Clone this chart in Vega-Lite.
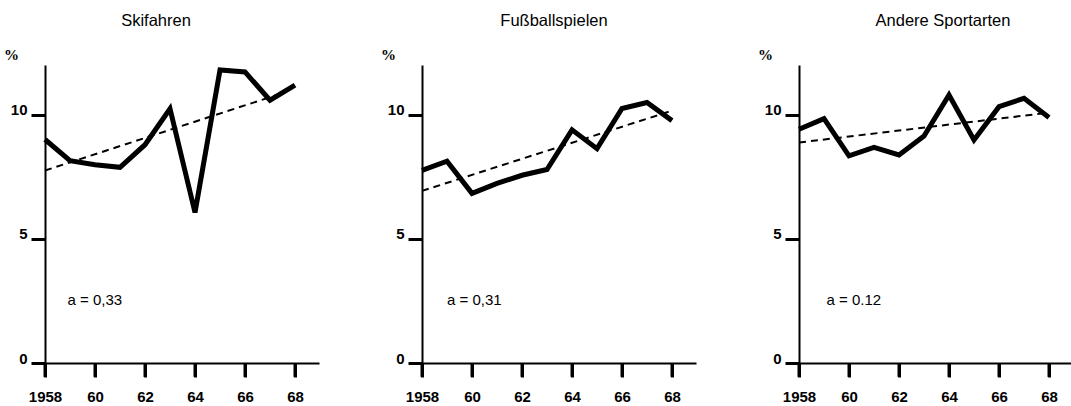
{
  "$schema": "https://vega.github.io/schema/vega-lite/v6.json",
  "background": "white",
  "padding": {"left": 3, "top": 12, "right": 0, "bottom": 0},
  "spacing": 61,
  "config": {
    "view": {"stroke": null},
    "title": {"font": "Liberation Sans", "fontSize": 16.5, "fontWeight": "normal", "color": "black", "anchor": "middle", "frame": "group", "offset": 18}
  },
  "datasets": {
    "lines": [
      {"sport": "Skifahren", "year": 1958, "value": 9.0},
      {"sport": "Skifahren", "year": 1959, "value": 8.15},
      {"sport": "Skifahren", "year": 1960, "value": 7.98},
      {"sport": "Skifahren", "year": 1961, "value": 7.88},
      {"sport": "Skifahren", "year": 1962, "value": 8.79},
      {"sport": "Skifahren", "year": 1963, "value": 10.24},
      {"sport": "Skifahren", "year": 1964, "value": 6.06},
      {"sport": "Skifahren", "year": 1965, "value": 11.8},
      {"sport": "Skifahren", "year": 1966, "value": 11.72},
      {"sport": "Skifahren", "year": 1967, "value": 10.58},
      {"sport": "Skifahren", "year": 1968, "value": 11.19},
      {"sport": "Fußballspielen", "year": 1958, "value": 7.76},
      {"sport": "Fußballspielen", "year": 1959, "value": 8.13},
      {"sport": "Fußballspielen", "year": 1960, "value": 6.83},
      {"sport": "Fußballspielen", "year": 1961, "value": 7.23},
      {"sport": "Fußballspielen", "year": 1962, "value": 7.56},
      {"sport": "Fußballspielen", "year": 1963, "value": 7.79},
      {"sport": "Fußballspielen", "year": 1964, "value": 9.39},
      {"sport": "Fußballspielen", "year": 1965, "value": 8.63},
      {"sport": "Fußballspielen", "year": 1966, "value": 10.25},
      {"sport": "Fußballspielen", "year": 1967, "value": 10.49},
      {"sport": "Fußballspielen", "year": 1968, "value": 9.76},
      {"sport": "Andere Sportarten", "year": 1958, "value": 9.41},
      {"sport": "Andere Sportarten", "year": 1959, "value": 9.84},
      {"sport": "Andere Sportarten", "year": 1960, "value": 8.34},
      {"sport": "Andere Sportarten", "year": 1961, "value": 8.68},
      {"sport": "Andere Sportarten", "year": 1962, "value": 8.38},
      {"sport": "Andere Sportarten", "year": 1963, "value": 9.14},
      {"sport": "Andere Sportarten", "year": 1964, "value": 10.79},
      {"sport": "Andere Sportarten", "year": 1965, "value": 8.98},
      {"sport": "Andere Sportarten", "year": 1966, "value": 10.32},
      {"sport": "Andere Sportarten", "year": 1967, "value": 10.66},
      {"sport": "Andere Sportarten", "year": 1968, "value": 9.89}
    ],
    "trends": [
      {"sport": "Skifahren", "year": 1958, "value": 7.75},
      {"sport": "Skifahren", "year": 1967.6, "value": 10.9},
      {"sport": "Fußballspielen", "year": 1958, "value": 6.93},
      {"sport": "Fußballspielen", "year": 1968, "value": 10.16},
      {"sport": "Andere Sportarten", "year": 1958, "value": 8.88},
      {"sport": "Andere Sportarten", "year": 1968, "value": 10.08}
    ],
    "notes": [
      {"sport": "Skifahren", "year": 1958.9, "value": 2.54, "label": "a = 0,33"},
      {"sport": "Fußballspielen", "year": 1959.0, "value": 2.52, "label": "a = 0,31"},
      {"sport": "Andere Sportarten", "year": 1959.1, "value": 2.53, "label": "a = 0.12"}
    ]
  },
  "hconcat": [
    {
      "title": {"text": "Skifahren", "dx": -21},
      "width": 284, "height": 298,
      "encoding": {
        "x": {"field": "year", "type": "quantitative", "scale": {"domain": [1957.6, 1968.96], "nice": false, "zero": false},
          "axis": {"grid": false, "domainColor": "black", "domainWidth": 2, "tickColor": "black", "tickWidth": 3, "tickSize": 14, "labelColor": "black", "labelFont": "Liberation Sans", "labelFontSize": 15, "labelFontWeight": "bold", "labelPadding": 12, "values": [1958, 1960, 1962, 1964, 1966, 1968], "labelExpr": "datum.value == 1958 ? '1958' : slice(toString(datum.value), 2)", "title": null}},
        "y": {"field": "value", "type": "quantitative", "scale": {"domain": [0, 12], "nice": false},
          "axis": {"grid": false, "domainColor": "black", "domainWidth": 2, "tickColor": "black", "tickWidth": 3, "tickSize": 14, "labelColor": "black", "labelFont": "Liberation Sans", "labelFontSize": 15, "labelFontWeight": "bold", "values": [0, 5, 10], "offset": -10, "labelPadding": 4, "labelOffset": -5, "title": "%", "titleAngle": 0, "titleX": -34, "titleY": -11, "titleAlign": "center", "titleBaseline": "middle", "titleFontSize": 15, "titleFontWeight": "bold", "titleColor": "black", "titleFont": "Liberation Serif"}}
      },
      "layer": [
        {"data": {"name": "lines"}, "transform": [{"filter": "datum.sport == 'Skifahren' && datum.year % 2 == 0"}], "mark": {"type": "rule", "color": "black", "strokeWidth": 3}, "encoding": {"y": {"datum": 0}, "y2": {"datum": -0.56}}},
        {"data": {"name": "trends"}, "transform": [{"filter": "datum.sport == 'Skifahren'"}], "mark": {"type": "line", "color": "black", "strokeWidth": 2, "strokeDash": [7, 5]}},
        {"data": {"name": "lines"}, "transform": [{"filter": "datum.sport == 'Skifahren'"}], "mark": {"type": "line", "color": "black", "strokeWidth": 5}},
        {"data": {"name": "notes"}, "transform": [{"filter": "datum.sport == 'Skifahren'"}], "mark": {"type": "text", "align": "left", "baseline": "middle", "font": "Liberation Sans", "fontSize": 15, "color": "black"}, "encoding": {"text": {"field": "label"}}}
      ]
    },
    {
      "title": {"text": "Fußballspielen", "dx": 0},
      "width": 284, "height": 298,
      "encoding": {
        "x": {"field": "year", "type": "quantitative", "scale": {"domain": [1957.6, 1968.96], "nice": false, "zero": false},
          "axis": {"grid": false, "domainColor": "black", "domainWidth": 2, "tickColor": "black", "tickWidth": 3, "tickSize": 14, "labelColor": "black", "labelFont": "Liberation Sans", "labelFontSize": 15, "labelFontWeight": "bold", "labelPadding": 12, "values": [1958, 1960, 1962, 1964, 1966, 1968], "labelExpr": "datum.value == 1958 ? '1958' : slice(toString(datum.value), 2)", "title": null}},
        "y": {"field": "value", "type": "quantitative", "scale": {"domain": [0, 12], "nice": false},
          "axis": {"grid": false, "domainColor": "black", "domainWidth": 2, "tickColor": "black", "tickWidth": 3, "tickSize": 14, "labelColor": "black", "labelFont": "Liberation Sans", "labelFontSize": 15, "labelFontWeight": "bold", "values": [0, 5, 10], "offset": -10, "labelPadding": 4, "labelOffset": -5, "title": "%", "titleAngle": 0, "titleX": -34, "titleY": -11, "titleAlign": "center", "titleBaseline": "middle", "titleFontSize": 15, "titleFontWeight": "bold", "titleColor": "black", "titleFont": "Liberation Serif"}}
      },
      "layer": [
        {"data": {"name": "lines"}, "transform": [{"filter": "datum.sport == 'Fußballspielen' && datum.year % 2 == 0"}], "mark": {"type": "rule", "color": "black", "strokeWidth": 3}, "encoding": {"y": {"datum": 0}, "y2": {"datum": -0.56}}},
        {"data": {"name": "trends"}, "transform": [{"filter": "datum.sport == 'Fußballspielen'"}], "mark": {"type": "line", "color": "black", "strokeWidth": 2, "strokeDash": [7, 5]}},
        {"data": {"name": "lines"}, "transform": [{"filter": "datum.sport == 'Fußballspielen'"}], "mark": {"type": "line", "color": "black", "strokeWidth": 5}},
        {"data": {"name": "notes"}, "transform": [{"filter": "datum.sport == 'Fußballspielen'"}], "mark": {"type": "text", "align": "left", "baseline": "middle", "font": "Liberation Sans", "fontSize": 15, "color": "black"}, "encoding": {"text": {"field": "label"}}}
      ]
    },
    {
      "title": {"text": "Andere Sportarten", "dx": 12},
      "width": 284, "height": 298,
      "encoding": {
        "x": {"field": "year", "type": "quantitative", "scale": {"domain": [1957.6, 1968.96], "nice": false, "zero": false},
          "axis": {"grid": false, "domainColor": "black", "domainWidth": 2, "tickColor": "black", "tickWidth": 3, "tickSize": 14, "labelColor": "black", "labelFont": "Liberation Sans", "labelFontSize": 15, "labelFontWeight": "bold", "labelPadding": 12, "values": [1958, 1960, 1962, 1964, 1966, 1968], "labelExpr": "datum.value == 1958 ? '1958' : slice(toString(datum.value), 2)", "title": null}},
        "y": {"field": "value", "type": "quantitative", "scale": {"domain": [0, 12], "nice": false},
          "axis": {"grid": false, "domainColor": "black", "domainWidth": 2, "tickColor": "black", "tickWidth": 3, "tickSize": 14, "labelColor": "black", "labelFont": "Liberation Sans", "labelFontSize": 15, "labelFontWeight": "bold", "values": [0, 5, 10], "offset": -10, "labelPadding": 4, "labelOffset": -5, "title": "%", "titleAngle": 0, "titleX": -34, "titleY": -11, "titleAlign": "center", "titleBaseline": "middle", "titleFontSize": 15, "titleFontWeight": "bold", "titleColor": "black", "titleFont": "Liberation Serif"}}
      },
      "layer": [
        {"data": {"name": "lines"}, "transform": [{"filter": "datum.sport == 'Andere Sportarten' && datum.year % 2 == 0"}], "mark": {"type": "rule", "color": "black", "strokeWidth": 3}, "encoding": {"y": {"datum": 0}, "y2": {"datum": -0.56}}},
        {"data": {"name": "trends"}, "transform": [{"filter": "datum.sport == 'Andere Sportarten'"}], "mark": {"type": "line", "color": "black", "strokeWidth": 2, "strokeDash": [7, 5]}},
        {"data": {"name": "lines"}, "transform": [{"filter": "datum.sport == 'Andere Sportarten'"}], "mark": {"type": "line", "color": "black", "strokeWidth": 5}},
        {"data": {"name": "notes"}, "transform": [{"filter": "datum.sport == 'Andere Sportarten'"}], "mark": {"type": "text", "align": "left", "baseline": "middle", "font": "Liberation Sans", "fontSize": 15, "color": "black"}, "encoding": {"text": {"field": "label"}}}
      ]
    }
  ]
}
